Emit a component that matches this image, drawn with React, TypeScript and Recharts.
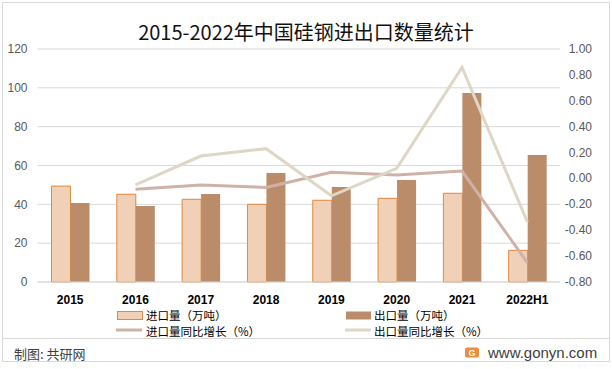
import { Bar, CartesianGrid, ComposedChart, Line, XAxis, YAxis } from "recharts"

const years = ['2015', '2016', '2017', '2018', '2019', '2020', '2021', '2022H1']
const importVol = [49.4, 45.2, 42.6, 40.0, 42.1, 43.1, 45.7, 16.3]
const exportVol = [40.7, 39.1, 45.3, 56.1, 48.9, 52.5, 97.3, 65.4]
const importGrowth = [null, -0.084, -0.051, -0.069, 0.047, 0.026, 0.057, -0.65]
const exportGrowth = [null, -0.049, 0.173, 0.23, -0.134, 0.078, 0.858, -0.335]

const leftTicks = [0, 20, 40, 60, 80, 100, 120]
const rightTicks = [-0.8, -0.6, -0.4, -0.2, 0, 0.2, 0.4, 0.6, 0.8, 1.0]

const data = years.map((y, i) => ({
    year: y,
    importVol: importVol[i],
    exportVol: exportVol[i],
    importGrowth: importGrowth[i],
    exportGrowth: exportGrowth[i],
}))

const IMPORT_FILL = '#F0D0B7'
const IMPORT_STROKE = '#E0883C'
const EXPORT_FILL = '#BA8C6A'
const IMPORT_LINE = '#CFB2A7'
const EXPORT_LINE = '#DED7C5'

const font = '"Liberation Sans", Arial, sans-serif'
const cjk = '"Noto Sans CJK SC", "Liberation Sans", sans-serif'

const RightTick = ({ x, y, payload }: any) => (
    <text x={x} y={y} dy={4} textAnchor="end" fill="#595959" fontSize={12} fontFamily={font}>
        {Number(payload.value).toFixed(2)}
    </text>
)

const App = () => {
    return (
        <div style={{ position: 'absolute', left: 0, top: 0, width: 612, height: 369, background: '#fff', overflow: 'hidden' }}>
            <div style={{ position: 'absolute', left: 0, top: 19, width: 612, textAlign: 'center', fontFamily: cjk, fontSize: 20, color: '#111', lineHeight: '26px' }}>
                2015-2022年中国硅钢进出口数量统计
            </div>
            <div style={{ position: 'absolute', left: 0, top: 0 }}>
                <ComposedChart
                    width={612}
                    height={369}
                    data={data}
                    margin={{ top: 49, right: 0, bottom: 57, left: 0 }}
                    barCategoryGap={14}
                    barGap={0}
                >
                    <CartesianGrid yAxisId="left" vertical={false} stroke="#D9D9D9" />
                    <XAxis
                        dataKey="year"
                        height={30}
                        tickLine={false}
                        tickSize={0}
                        tickMargin={13}
                        axisLine={{ stroke: '#D9D9D9' }}
                        tick={{ fill: '#000', fontSize: 12, fontWeight: 'bold', fontFamily: font }}
                        interval={0}
                    />
                    <YAxis
                        yAxisId="left"
                        width={37.5}
                        domain={[0, 120]}
                        ticks={leftTicks}
                        axisLine={false}
                        tickLine={false}
                        tickSize={0}
                        tickMargin={10}
                        tick={{ fill: '#595959', fontSize: 12, fontFamily: font }}
                    />
                    <YAxis
                        yAxisId="right"
                        orientation="right"
                        width={52}
                        domain={[-0.8, 1.0]}
                        ticks={rightTicks}
                        axisLine={false}
                        tickLine={false}
                        tickSize={0}
                        tickMargin={32}
                        tick={<RightTick />}
                    />
                    <Bar yAxisId="left" dataKey="importVol" fill={IMPORT_FILL} stroke={IMPORT_STROKE} strokeWidth={1} isAnimationActive={false} />
                    <Bar yAxisId="left" dataKey="exportVol" fill={EXPORT_FILL} isAnimationActive={false} />
                    <Line yAxisId="right" dataKey="importGrowth" stroke={IMPORT_LINE} strokeWidth={3} dot={false} isAnimationActive={false} />
                    <Line yAxisId="right" dataKey="exportGrowth" stroke={EXPORT_LINE} strokeWidth={3} dot={false} isAnimationActive={false} />
                </ComposedChart>
            </div>
            <svg width={612} height={369} style={{ position: 'absolute', left: 0, top: 0, pointerEvents: 'none' }}>
                {/* legend */}
                <rect x={117.5} y={311.5} width={25} height={8} fill={IMPORT_FILL} stroke={IMPORT_STROKE} />
                <text x={146} y={319.5} fontSize={11.5} fontFamily={cjk} fill="#000">进口量（万吨）</text>
                <rect x={346} y={311.5} width={25} height={8} fill={EXPORT_FILL} />
                <text x={374} y={319.5} fontSize={11.5} fontFamily={cjk} fill="#000">出口量（万吨）</text>
                <line x1={116} x2={142} y1={330} y2={330} stroke={IMPORT_LINE} strokeWidth={3} />
                <text x={146} y={335.5} fontSize={11.5} fontFamily={cjk} fill="#000">进口量同比增长（%）</text>
                <line x1={345} x2={371} y1={330} y2={330} stroke={EXPORT_LINE} strokeWidth={3} />
                <text x={374} y={335.5} fontSize={11.5} fontFamily={cjk} fill="#000">出口量同比增长（%）</text>
                {/* frame + footer */}
                <rect x={2.5} y={2.5} width={607} height={359} fill="none" stroke="#D9D9D9" />
                <line x1={2.5} x2={609.5} y1={338.5} y2={338.5} stroke="#D9D9D9" />
                <text x={14} y={358.5} fontSize={13} fontFamily={cjk} fill="#404040">制图: 共研网</text>
                <rect x={465} y={347.5} width={14} height={10} rx={2} fill="#F08A3C" />
                <text x={472} y={356} fontSize={9} fontWeight="bold" textAnchor="middle" fontFamily={font} fill="#fff">G</text>
                <text x={488} y={358} fontSize={15} fontFamily={font} fill="#404040">www.gonyn.com</text>
            </svg>
        </div>
    )
}

export default App
